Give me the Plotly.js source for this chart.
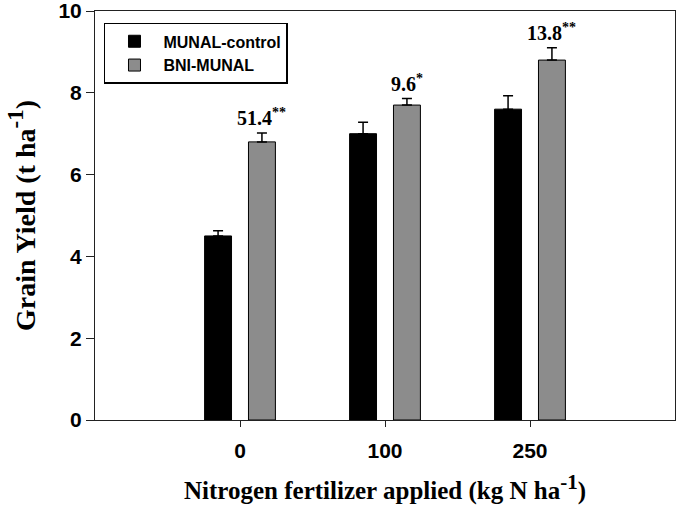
<!DOCTYPE html>
<html>
<head>
<meta charset="utf-8">
<script src="https://cdn.plot.ly/plotly-3.0.1.min.js"></script>
<style>html,body{margin:0;padding:0;background:#fff}#chart{width:677px;height:519px}</style>
</head>
<body>
<div id="chart"></div>
<script>
var categories = ["0", "100", "250"];
var controlName = "MUNAL-control";
var bniName = "BNI-MUNAL";
var controlYield = [4.5, 7.0, 7.6];
var controlErr = [0.13, 0.28, 0.33];
var bniYield = [6.8, 7.7, 8.8];
var bniErr = [0.22, 0.16, 0.30];
var increaseLabels = ["51.4", "9.6", "13.8"];
var significance = ["**", "*", "**"];

var zeros = categories.map(function(){return 0;});

var traces = [
  {type: "bar", name: controlName, x: categories, y: controlYield,
   marker: {color: "#000000", line: {color: "#000000", width: 1}},
   error_y: {type: "data", symmetric: false, array: controlErr, arrayminus: zeros,
             color: "#000000", thickness: 1.5, width: 5}},
  {type: "bar", name: bniName, x: categories, y: bniYield,
   marker: {color: "#8c8c8c", line: {color: "#000000", width: 1}},
   error_y: {type: "data", symmetric: false, array: bniErr, arrayminus: zeros,
             color: "#000000", thickness: 1.5, width: 5}}
];

var annotations = categories.map(function(c, i){
  return {
    x: i + 0.15, y: bniYield[i] + bniErr[i], xref: "x", yref: "y",
    text: "<b>" + increaseLabels[i] + "<sup>" + significance[i] + "</sup></b>",
    showarrow: false, yanchor: "middle", yshift: 16,
    font: {family: "Liberation Serif", size: 20, color: "#000"}
  };
});

var supX = '<sup><span style="font-size:21px">-1</span></sup>';
var supY = '<sup><span style="font-size:23px">-1</span></sup>';

var layout = {
  width: 677, height: 519,
  margin: {l: 95, r: 2, t: 11, b: 99},
  paper_bgcolor: "#fff", plot_bgcolor: "#fff",
  barmode: "group", bargap: 0.395, bargroupgap: 0.386,
  showlegend: true,
  legend: {x: 0.0155, y: 0.971, xanchor: "left", yanchor: "top",
           bordercolor: "#000", borderwidth: 1.5, bgcolor: "#fff",
           itemwidth: 48, tracegroupgap: 0,
           font: {family: "Liberation Sans", size: 16, color: "#000", weight: "bold"}},
  xaxis: {type: "category", range: [-1, 3], showgrid: false, zeroline: false,
          showline: true, linecolor: "#222", linewidth: 1, mirror: true,
          ticks: "outside", ticklen: 6, tickcolor: "#222", ticklabelstandoff: 6,
          tickfont: {family: "Liberation Sans", size: 21, color: "#000", weight: "bold"},
          title: {text: "<b>Nitrogen fertilizer applied (kg N ha" + supX + ")</b>", standoff: 20,
                  font: {family: "Liberation Serif", size: 25, color: "#000"}}},
  yaxis: {range: [0, 10], dtick: 2, showgrid: false, zeroline: false,
          showline: true, linecolor: "#222", linewidth: 1, mirror: true,
          ticks: "outside", ticklen: 8, tickcolor: "#222", ticklabeloverflow: "allow",
          tickfont: {family: "Liberation Sans", size: 21, color: "#000", weight: "bold"},
          title: {text: "<b>Grain Yield (t ha" + supY + ")</b>", standoff: 14,
                  font: {family: "Liberation Serif", size: 28, color: "#000"}}},
  annotations: annotations
};

Plotly.newPlot("chart", traces, layout, {displayModeBar: false, staticPlot: true});
</script>
</body>
</html>
